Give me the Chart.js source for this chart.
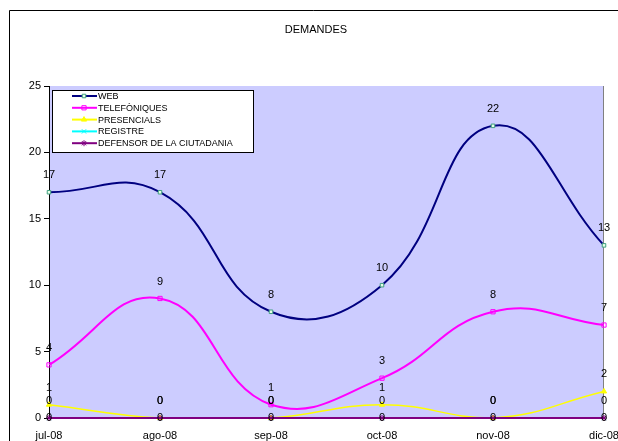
<!DOCTYPE html>
<html><head><meta charset="utf-8">
<script src="https://cdn.jsdelivr.net/npm/chart.js@4.4.1/dist/chart.umd.min.js"></script>
<style>html,body{margin:0;padding:0;background:#fff}#wrap{width:618px;height:441px;position:relative}</style>
</head><body><div id="wrap"><canvas id="c" width="618" height="441"></canvas></div>
<script>
const categories = ['jul-08','ago-08','sep-08','oct-08','nov-08','dic-08'];
const web = [17,17,8,10,22,13];
const telefoniques = [4,9,1,3,8,7];
const presencials = [1,0,0,1,0,2];
const registre = [0,0,0,0,0,0];
const defensor = [0,0,0,0,0,0];
const yTicks = [0,5,10,15,20,25];
const FONT = "'Liberation Sans', Arial, sans-serif";

const labelOffsets = [17,17,17,17,0];

const bgPlugin = {
  id:'bg',
  beforeDraw(chart){
    const {ctx, chartArea:a} = chart;
    ctx.save();
    ctx.fillStyle='#fff'; ctx.fillRect(0,0,chart.width,chart.height);
    ctx.fillStyle='#CCCCFF'; ctx.fillRect(a.left,a.top,a.right-a.left,a.bottom-a.top);
    ctx.strokeStyle='#808080'; ctx.lineWidth=1;
    ctx.beginPath(); ctx.moveTo(Math.round(a.right)-0.5,a.top); ctx.lineTo(Math.round(a.right)-0.5,a.bottom); ctx.stroke();
    ctx.strokeStyle='#000';
    ctx.beginPath(); ctx.moveTo(9.5,441); ctx.lineTo(9.5,10.5); ctx.lineTo(618,10.5); ctx.stroke();
    ctx.fillStyle='#000'; ctx.font='11px '+FONT; ctx.textAlign='center'; ctx.textBaseline='middle';
    ctx.fillText('DEMANDES',316,30);
    ctx.restore();
  },
  afterDatasetsDraw(chart){
    const {ctx} = chart;
    ctx.save();
    ctx.font='11px '+FONT; ctx.fillStyle='#000'; ctx.textAlign='center'; ctx.textBaseline='middle';
    chart.data.datasets.forEach((ds,i)=>{
      const meta = chart.getDatasetMeta(i);
      meta.data.forEach((pt,j)=>{
        ctx.fillText(String(ds.data[j]), pt.x, pt.y - labelOffsets[i]);
      });
    });
    // legend
    const lx=52.5, ly=90.5, lw=201, lh=62;
    ctx.fillStyle='#fff'; ctx.fillRect(lx,ly,lw,lh);
    ctx.strokeStyle='#000'; ctx.lineWidth=1; ctx.strokeRect(lx,ly,lw,lh);
    ctx.font='9px '+FONT; ctx.textAlign='left';
    chart.data.datasets.forEach((ds,i)=>{
      const y = 96 + i*11.8;
      ctx.strokeStyle=ds.borderColor; ctx.lineWidth=2;
      ctx.beginPath(); ctx.moveTo(72,y); ctx.lineTo(97,y); ctx.stroke();
      ctx.fillStyle=ds.pointBackgroundColor; ctx.strokeStyle=ds.pointBorderColor;
      ctx.lineWidth=1;
      Chart.helpers.drawPoint(ctx,{pointStyle:ds.pointStyle,radius:ds.pointRadius,borderWidth:1},84,y);
      ctx.fillStyle='#000';
      ctx.fillText(ds.label,98,y+0.5);
    });
    ctx.restore();
  }
};

new Chart(document.getElementById('c'),{
  type:'line',
  data:{labels:categories,datasets:[
    {label:'WEB',data:web,order:1,borderColor:'#000080',borderWidth:2,tension:0.45,pointStyle:'rect',pointRadius:2.5,pointBackgroundColor:'#E6FFE6',pointBorderColor:'#40A080',pointBorderWidth:1,clip:false},
    {label:'TELEFÒNIQUES',data:telefoniques,order:1,borderColor:'#FF00FF',borderWidth:2,tension:0.45,pointStyle:'rect',pointRadius:3,pointBackgroundColor:'rgba(0,0,0,0)',pointBorderColor:'#FF00FF',pointBorderWidth:1,clip:false},
    {label:'PRESENCIALS',data:presencials,order:1,borderColor:'#FFFF00',borderWidth:1.5,tension:0.45,pointStyle:'triangle',pointRadius:3,pointBackgroundColor:'#FFFF00',pointBorderColor:'#FFFF00',pointBorderWidth:1,clip:false},
    {label:'REGISTRE',data:registre,order:2,borderColor:'#00FFFF',borderWidth:2,tension:0.45,pointStyle:'crossRot',pointRadius:3,pointBackgroundColor:'#00FFFF',pointBorderColor:'#00FFFF',pointBorderWidth:1,clip:false},
    {label:'DEFENSOR DE LA CIUTADANIA',data:defensor,order:0,borderColor:'#800080',borderWidth:2,tension:0.45,pointStyle:'star',pointRadius:3,pointBackgroundColor:'#800080',pointBorderColor:'#800080',pointBorderWidth:1,clip:false}
  ]},
  options:{
    responsive:false,animation:false,
    layout:{padding:{left:9,top:86,right:14,bottom:0}},
    plugins:{legend:{display:false},title:{display:false},tooltip:{enabled:false}},
    scales:{
      x:{offset:false,grid:{display:false,drawTicks:false},border:{display:true,color:'#000'},
         ticks:{color:'#000',font:{family:FONT,size:11},maxRotation:0,autoSkip:false,padding:11},
         afterFit(s){s.height=23;s.paddingLeft=0;s.paddingRight=0;}},
      y:{min:0,max:25,afterBuildTicks(s){s.ticks=yTicks.map(v=>({value:v}));},
         grid:{display:true,drawOnChartArea:false,drawTicks:true,tickLength:5,color:'#000'},
         border:{display:true,color:'#000'},
         ticks:{color:'#000',font:{family:FONT,size:11},padding:3},
         afterFit(s){s.width=40;s.paddingTop=0;s.paddingBottom=0;}}
    }
  },
  plugins:[bgPlugin]
});
</script></body></html>
